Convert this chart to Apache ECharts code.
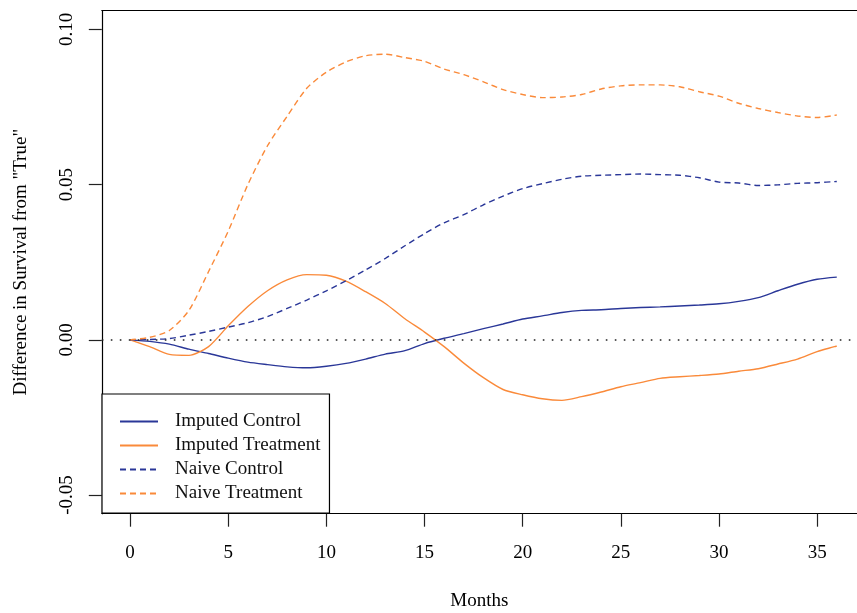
<!DOCTYPE html>
<html>
<head>
<meta charset="utf-8">
<title>Difference in Survival from "True"</title>
<script src="https://cdn.jsdelivr.net/npm/echarts@6/dist/echarts.min.js"></script>
<style>
  html, body { margin: 0; padding: 0; background: #fff; }
  #chart { width: 857px; height: 613px; }
</style>
</head>
<body>
<div id="chart"></div>
<script>
// Months of follow-up
const months = [0,1,2,3,4,5,6,7,8,9,10,11,12,13,14,15,16,17,18,19,20,21,22,23,24,25,26,27,28,29,30,31,32,33,34,35,36];

// Difference in survival from the "true" curve, one value per month
const imputedControl = [0,-0.0005,-0.0014,-0.003,-0.0044,-0.0059,-0.0072,-0.008,-0.0087,-0.009,-0.0085,-0.0076,-0.0062,-0.0046,-0.0035,-0.0012,0.0005,0.002,0.0036,0.0051,0.0067,0.0077,0.0088,0.0095,0.0097,0.0101,0.0104,0.0106,0.0109,0.0112,0.0116,0.0124,0.0136,0.0158,0.0179,0.0195,0.0202];
const imputedTreatment = [0,-0.0022,-0.0047,-0.005,-0.0022,0.0045,0.0107,0.0158,0.0193,0.021,0.0208,0.0189,0.0155,0.0117,0.0068,0.0025,-0.0022,-0.0075,-0.0122,-0.016,-0.0177,-0.019,-0.0195,-0.0183,-0.0168,-0.0151,-0.0138,-0.0124,-0.0119,-0.0115,-0.011,-0.0101,-0.0093,-0.0078,-0.0062,-0.0038,-0.002];
const naiveControl = [0,0.0001,0.0004,0.0015,0.0027,0.0041,0.0055,0.0075,0.0101,0.0128,0.0158,0.019,0.0225,0.0262,0.0303,0.0342,0.0377,0.0403,0.0435,0.0463,0.0487,0.0503,0.0517,0.0527,0.053,0.0532,0.0534,0.0532,0.053,0.0522,0.0508,0.0505,0.0497,0.0499,0.0504,0.0506,0.051];
const naiveTreatment = [0,0.0008,0.003,0.0095,0.022,0.035,0.05,0.0625,0.072,0.081,0.0862,0.0895,0.0915,0.092,0.0909,0.0897,0.0872,0.0854,0.0831,0.0806,0.079,0.078,0.0782,0.079,0.0808,0.0818,0.0821,0.0821,0.0815,0.0799,0.0785,0.0762,0.0745,0.0732,0.0721,0.0716,0.0724];

// Axis ticks
const xTicks = [0,5,10,15,20,25,30,35];
const yTicks = [-0.05, 0, 0.05, 0.10];
const yTickLabels = ['-0.05', '0.00', '0.05', '0.10'];

const FONT = 'Liberation Serif';
const FS = 19;
const BLUE = '#2a3798';
const ORANGE = '#fa8a3a';
const FRAME = { show: true, onZero: false, lineStyle: { color: '#000', width: 1.2 } };

const pairs = vals => months.map((m, i) => [m, vals[i]]);

const lineSeries = (name, vals, color, dashed) => ({
  name: name,
  type: 'line',
  data: pairs(vals),
  symbol: 'none',
  smooth: 0.25,
  lineStyle: { color: color, width: 1.4, type: dashed ? [6, 4] : 'solid' },
  itemStyle: { color: color },
  emphasis: { disabled: true },
  z: 3
});

const chart = echarts.init(document.getElementById('chart'), null, { renderer: 'canvas' });

const series = [
  lineSeries('Imputed Control', imputedControl, BLUE, false),
  lineSeries('Imputed Treatment', imputedTreatment, ORANGE, false),
  lineSeries('Naive Control', naiveControl, BLUE, true),
  lineSeries('Naive Treatment', naiveTreatment, ORANGE, true)
];

// dotted reference line at zero
series[0].markLine = {
  silent: true,
  symbol: 'none',
  animation: false,
  label: { show: false },
  lineStyle: { color: '#222', width: 1.6, type: [1.6, 7.4] },
  data: [{ yAxis: 0 }]
};

chart.setOption({
  animation: false,
  backgroundColor: '#fff',
  grid: { left: 101.8, top: 10.7, bottom: 99.3, right: 0, show: false, outerBoundsMode: 'none' },
  xAxis: [{
    type: 'value',
    min: -1.44, max: 37.03,
    name: 'Months',
    nameLocation: 'middle',
    nameGap: 78,
    nameTextStyle: { fontFamily: FONT, fontSize: FS, color: '#000' },
    axisLine: FRAME,
    splitLine: { show: false },
    axisTick: { show: true, inside: false, length: 13, lineStyle: { color: '#222', width: 1.2 }, customValues: xTicks },
    axisLabel: { fontFamily: FONT, fontSize: FS, color: '#000', margin: 30, customValues: xTicks, formatter: v => String(v) }
  }, {
    // top edge of the plot frame
    type: 'value', position: 'top',
    min: -1.44, max: 37.03,
    axisLine: FRAME,
    axisTick: { show: false }, axisLabel: { show: false }, splitLine: { show: false }
  }],
  yAxis: {
    type: 'value',
    min: -0.056, max: 0.106,
    name: 'Difference in Survival from "True"',
    nameLocation: 'middle',
    nameGap: 71,
    nameTextStyle: { fontFamily: FONT, fontSize: FS, color: '#000' },
    axisLine: FRAME,
    splitLine: { show: false },
    axisTick: { show: true, inside: false, length: 13, lineStyle: { color: '#222', width: 1.2 }, customValues: yTicks },
    axisLabel: {
      fontFamily: FONT, fontSize: FS, color: '#000', margin: 25, rotate: 90,
      customValues: yTicks,
      formatter: v => {
        const i = yTicks.findIndex(t => Math.abs(t - v) < 1e-9);
        return i >= 0 ? yTickLabels[i] : '';
      }
    }
  },
  legend: {
    orient: 'vertical',
    left: 102, top: 394,
    padding: [18, 9, 10, 17],
    itemWidth: 38, itemHeight: 14, itemGap: 5,
    borderColor: '#000', borderWidth: 1.2, borderRadius: 0,
    backgroundColor: '#fff',
    selectedMode: false,
    itemStyle: { opacity: 0 },
    textStyle: { fontFamily: FONT, fontSize: FS, color: '#111', padding: [0, 0, 0, 12] },
    data: ['Imputed Control', 'Imputed Treatment', 'Naive Control', 'Naive Treatment']
  },
  series: series
});
</script>
</body>
</html>
